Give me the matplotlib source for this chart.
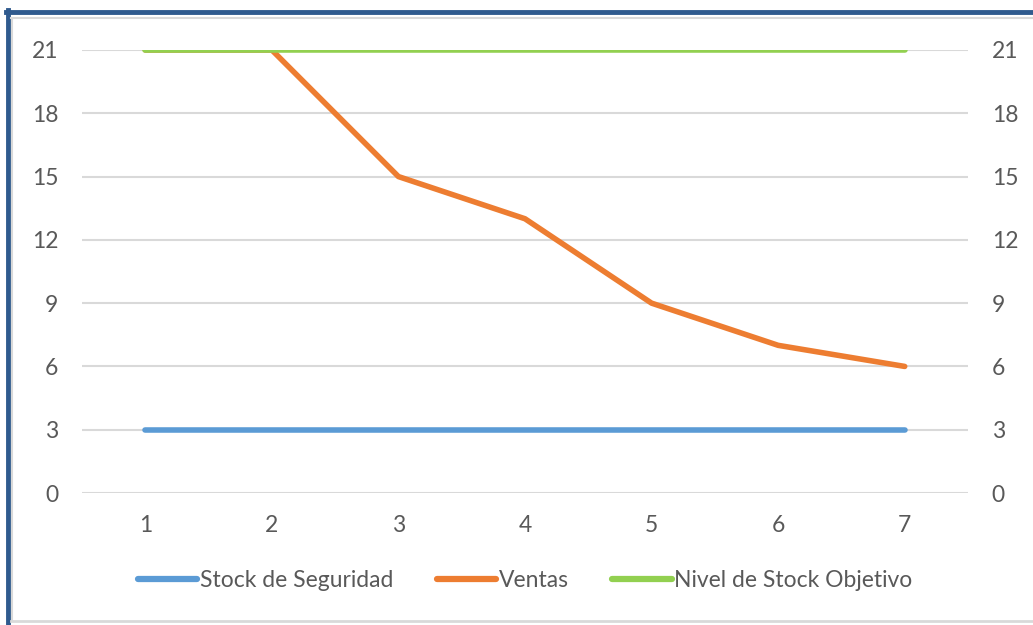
import matplotlib.pyplot as plt
from matplotlib.lines import Line2D

periodos = [1, 2, 3, 4, 5, 6, 7]
stock_seguridad = [3, 3, 3, 3, 3, 3, 3]
ventas = [21, 21, 15, 13, 9, 7, 6]
stock_objetivo = [21, 21, 21, 21, 21, 21, 21]
y_ticks = [0, 3, 6, 9, 12, 15, 18, 21]

plt.rcParams['font.family'] = ['Lato', 'DejaVu Sans']
txt = '#595959'
fs = 16.5

fig = plt.figure(figsize=(10.33, 6.25), dpi=100)
ax = fig.add_axes([82 / 1033, 132 / 625, 886 / 1033, 443 / 625])

ax.plot(periodos, stock_seguridad, color='#5B9BD5', lw=4, solid_capstyle='round',
        label='Stock de Seguridad', zorder=3)
ax.plot(periodos, ventas, color='#ED7D31', lw=4, solid_capstyle='round',
        label='Ventas', zorder=3)
ax.plot(periodos, stock_objetivo, color='#92D050', lw=4, solid_capstyle='round',
        label='Nivel de Stock Objetivo', zorder=4)

ax.set_xlim(0.5, 7.5)
ax.set_ylim(0, 21)
ax.set_xticks(periodos)
ax.set_yticks(y_ticks)
ax.grid(axis='y', color='#d9d9d9', lw=1.5)
ax.set_axisbelow(True)
for s in ax.spines.values():
    s.set_visible(False)
ax.tick_params(axis='y', length=0, pad=17, labelsize=fs, labelcolor=txt,
               labelright=True)
ax.tick_params(axis='x', length=0, pad=16, labelsize=fs, labelcolor=txt)

handles = [Line2D([], [], color=c, lw=4.5, solid_capstyle='round')
           for c in ['#5B9BD5', '#ED7D31', '#92D050']]
ax.legend(handles, ['Stock de Seguridad', 'Ventas', 'Nivel de Stock Objetivo'],
          loc='center', bbox_to_anchor=(0.5, -0.197), ncol=3, frameon=False,
          fontsize=fs, labelcolor=txt, handlelength=2.6, handletextpad=0.1,
          columnspacing=1.9)

# chart frame
fig.add_artist(Line2D([6 / 1033, 1], [1 - 12 / 625, 1 - 12 / 625], color='#2F5A8E',
                      lw=3.5, transform=fig.transFigure))
fig.add_artist(Line2D([8 / 1033, 8 / 1033], [0, 1 - 10 / 625], color='#2F5A8E',
                      lw=3.5, transform=fig.transFigure))
fig.add_artist(Line2D([11 / 1033, 1], [1 - 18 / 625, 1 - 18 / 625], color='#d9d9d9',
                      lw=1.5, transform=fig.transFigure))
fig.add_artist(Line2D([12 / 1033, 12 / 1033], [4 / 625, 1 - 18 / 625], color='#d9d9d9',
                      lw=1.5, transform=fig.transFigure))
fig.add_artist(Line2D([11 / 1033, 1], [4 / 625, 4 / 625], color='#d9d9d9',
                      lw=2, transform=fig.transFigure))

fig.savefig('out.png', dpi=100)
